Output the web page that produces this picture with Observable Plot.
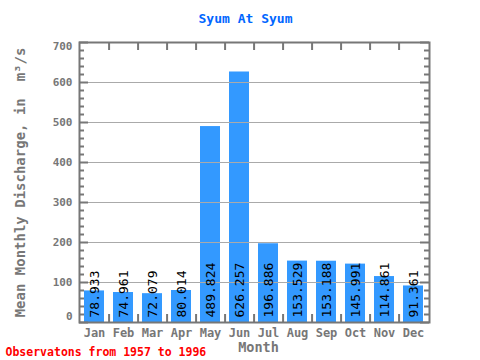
<!DOCTYPE html>
<html><head><meta charset="utf-8">
<script src="https://cdn.jsdelivr.net/npm/d3@7"></script>
<script src="https://cdn.jsdelivr.net/npm/@observablehq/plot@0.6"></script>
<style>html,body{margin:0;padding:0;background:#fff} svg{display:block}</style>
</head><body><div id="chart"></div>
<script>
const months = ["Jan","Feb","Mar","Apr","May","Jun","Jul","Aug","Sep","Oct","Nov","Dec"];
const discharge = [78.933, 74.961, 72.079, 80.014, 489.824, 626.257, 196.886, 153.529, 153.188, 145.991, 114.861, 91.361];
const dischargeLabels = ["78.933","74.961","72.079","80.014","489.824","626.257","196.886","153.529","153.188","145.991","114.861","91.361"];
const yTicks = [0,100,200,300,400,500,600,700];
const yMinorTicks = [20,40,60,80,120,140,160,180,220,240,260,280,320,340,360,380,420,440,460,480,520,540,560,580,620,640,660,680];
const title = "Syum At Syum";
const caption = "Observatons from 1957 to 1996";
const xLabel = "Month";
const yLabel = "Mean Monthly Discharge, in  m³/s";

const W = 480, H = 360, ml = 79, mr = 51, mt = 42, mb = 38;
const fw = W - ml - mr, fh = H - mt - mb;
const step = fw / months.length;
const grey = "#777777";
const font = "'DejaVu Sans Mono', 'Liberation Mono', monospace";
const data = months.map((m, i) => ({month: m, value: discharge[i], label: dischargeLabels[i]}));

const plot = Plot.plot({
  width: W, height: H,
  marginLeft: ml, marginRight: mr, marginTop: mt, marginBottom: mb,
  style: {fontFamily: font, background: "#fff", overflow: "visible"},
  x: {type: "band", domain: months, paddingInner: 0.3, paddingOuter: 0.15, axis: null},
  y: {domain: [0, 700], axis: null},
  marks: [
    Plot.barY(data, {x: "month", y: "value", fill: "#3399ff"}),
    Plot.ruleY(yTicks.slice(1, -1), {y: d => d, stroke: "#aaaaaa", strokeWidth: 1}),
    Plot.ruleY(yMinorTicks, {y: d => d, stroke: grey, strokeWidth: 2, insetRight: fw - 5}),
    Plot.ruleY(yMinorTicks, {y: d => d, stroke: grey, strokeWidth: 2, insetLeft: fw - 5}),
    Plot.ruleY(yTicks, {y: d => d, stroke: grey, strokeWidth: 2, insetRight: fw - 9}),
    Plot.ruleY(yTicks, {y: d => d, stroke: grey, strokeWidth: 2, insetLeft: fw - 9}),
    Plot.ruleX(months.slice(0, -1), {x: d => d, dx: step / 2, stroke: grey, strokeWidth: 2, insetBottom: fh - 8}),
    Plot.ruleX(months.slice(0, -1), {x: d => d, dx: step / 2, stroke: grey, strokeWidth: 2, insetTop: fh - 8}),
    Plot.frame({stroke: grey, strokeWidth: 2}),
    Plot.text(data, {x: "month", y: 0, text: "label", rotate: -90, textAnchor: "start", lineAnchor: "middle", dy: -5, fill: "black", fontSize: 13}),
    Plot.text(yTicks.slice(1, -1), {y: d => d, text: d => String(d), frameAnchor: "left", dx: -7, textAnchor: "end", lineAnchor: "middle", fill: grey, fontWeight: "bold", fontSize: 11}),
    Plot.text(yTicks.slice(0, 1), {y: d => d, text: d => String(d), frameAnchor: "left", dx: -7, dy: -6, textAnchor: "end", lineAnchor: "middle", fill: grey, fontWeight: "bold", fontSize: 11}),
    Plot.text(yTicks.slice(-1), {y: d => d, text: d => String(d), frameAnchor: "left", dx: -7, dy: 4, textAnchor: "end", lineAnchor: "middle", fill: grey, fontWeight: "bold", fontSize: 11}),
    Plot.text(months, {x: d => d, text: d => d, frameAnchor: "bottom", dy: 11, lineAnchor: "middle", fill: grey, fontWeight: "bold", fontSize: 12}),
    Plot.text([xLabel], {text: d => d, frameAnchor: "bottom", dx: 4, dy: 25, lineAnchor: "middle", fill: grey, fontWeight: "bold", fontSize: 13.5}),
    Plot.text([yLabel], {text: d => d, frameAnchor: "left", dx: -59, rotate: -90, textAnchor: "middle", lineAnchor: "middle", fill: grey, fontWeight: "bold", fontSize: 14}),
    Plot.text([title], {text: d => d, frameAnchor: "top", dx: -9, dy: -24, lineAnchor: "middle", fill: "#0066ff", fontWeight: "bold", fontSize: 13}),
    Plot.text([caption], {text: d => d, frameAnchor: "bottom-left", dx: -74, dy: 30, textAnchor: "start", lineAnchor: "middle", fill: "#ff0000", fontWeight: "bold", fontSize: 11.5})
  ]
});
document.getElementById("chart").appendChild(plot);
</script>
</body></html>
